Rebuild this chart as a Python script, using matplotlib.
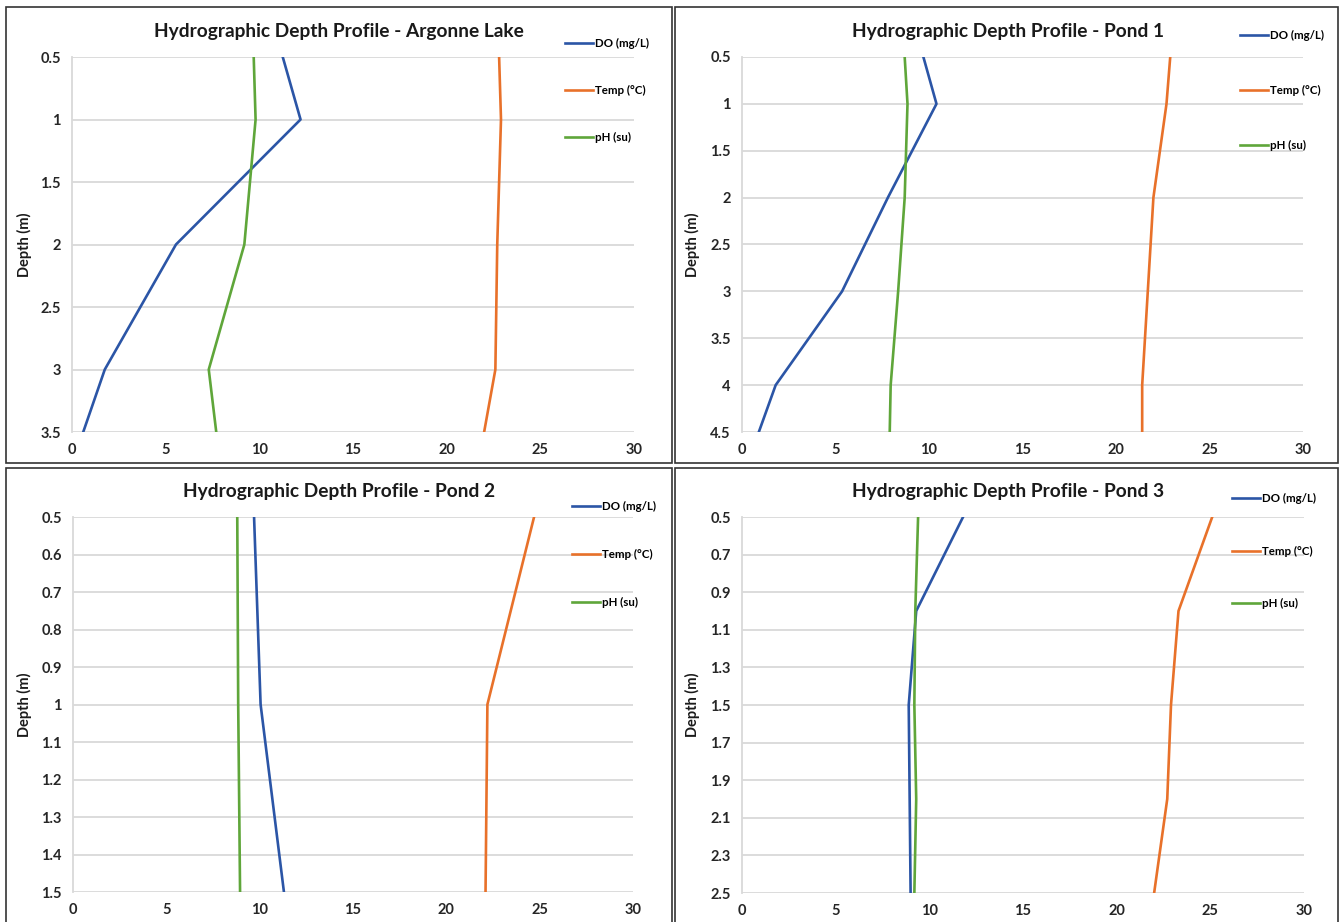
import matplotlib
matplotlib.use("Agg")
import matplotlib.pyplot as plt
from matplotlib.patches import Rectangle

plt.rcParams["font.family"] = ["Lato", "DejaVu Sans"]

W, H = 1343, 922

series_labels = ["DO (mg/L)", "Temp (°C)", "pH (su)"]
series_colors = ["#2b55a6", "#e8712a", "#5fa63a"]

# Argonne Lake
argonne_depth = [0.5, 1.0, 2.0, 3.0, 3.5]
argonne_do = [11.25, 12.2, 5.55, 1.75, 0.6]
argonne_temp = [22.8, 22.9, 22.7, 22.6, 22.0]
argonne_ph = [9.7, 9.8, 9.2, 7.3, 7.7]

# Pond 1
pond1_depth = [0.5, 1.0, 2.0, 3.0, 4.0, 4.5]
pond1_do = [9.7, 10.4, 7.8, 5.35, 1.8, 0.9]
pond1_temp = [22.9, 22.7, 22.0, 21.7, 21.4, 21.4]
pond1_ph = [8.7, 8.85, 8.7, 8.35, 7.95, 7.9]

# Pond 2
pond2_depth = [0.5, 1.0, 1.5]
pond2_do = [9.7, 10.05, 11.3]
pond2_temp = [24.7, 22.2, 22.1]
pond2_ph = [8.8, 8.85, 8.95]

# Pond 3
pond3_depth = [0.5, 1.0, 1.5, 2.0, 2.5]
pond3_do = [11.8, 9.3, 8.9, 8.95, 9.0]
pond3_temp = [25.1, 23.3, 22.9, 22.7, 22.0]
pond3_ph = [9.4, 9.25, 9.2, 9.3, 9.2]

titles = ["Hydrographic Depth Profile - Argonne Lake",
          "Hydrographic Depth Profile - Pond 1",
          "Hydrographic Depth Profile - Pond 2",
          "Hydrographic Depth Profile - Pond 3"]
depth_ticks = [[0.5, 1, 1.5, 2, 2.5, 3, 3.5],
               [0.5, 1, 1.5, 2, 2.5, 3, 3.5, 4, 4.5],
               [0.5, 0.6, 0.7, 0.8, 0.9, 1, 1.1, 1.2, 1.3, 1.4, 1.5],
               [0.5, 0.7, 0.9, 1.1, 1.3, 1.5, 1.7, 1.9, 2.1, 2.3, 2.5]]
x_ticks = [0, 5, 10, 15, 20, 25, 30]

panels = [
    (argonne_depth, argonne_do, argonne_temp, argonne_ph),
    (pond1_depth, pond1_do, pond1_temp, pond1_ph),
    (pond2_depth, pond2_do, pond2_temp, pond2_ph),
    (pond3_depth, pond3_do, pond3_temp, pond3_ph),
]

# layout in pixels: plot box (x0, x1, ytop, ybot), border box, title centre, legend (x, first row y, row step)
plot_px = [(72, 634, 57, 432), (742, 1303, 57, 432), (73, 633, 517, 892), (742, 1304, 517, 893)]
border_px = [(6, 7, 672, 463), (675, 7, 1338, 463), (6, 468, 672, 926), (675, 468, 1338, 926)]
title_px = [(339, 32), (1008, 32), (339, 492), (1008, 492)]
legend_px = [(565, 43, 47.5), (1240, 35, 55.5), (572, 506, 48.5), (1232, 498, 53)]
ylabel_x = [24, 692, 24, 692]

fig = plt.figure(figsize=(W / 100, H / 100), dpi=100)

for i, (depth, do, temp, ph) in enumerate(panels):
    x0, x1, yt, yb = plot_px[i]
    ax = fig.add_axes([x0 / W, 1 - yb / H, (x1 - x0) / W, (yb - yt) / H])
    lines = []
    for vals, lab, col in zip([do, temp, ph], series_labels, series_colors):
        ln, = ax.plot(vals, depth, color=col, lw=1.9, label=lab, zorder=3)
        lines.append(ln)
    ax.set_xlim(0, 30)
    ax.set_ylim(depth_ticks[i][-1], depth_ticks[i][0])
    ax.set_xticks(x_ticks)
    ax.set_yticks(depth_ticks[i])
    ax.set_yticklabels(["%g" % round(v, 1) for v in depth_ticks[i]])
    ax.grid(axis="y", color="#d9d9d9", lw=1.3)
    ax.set_axisbelow(True)
    for s in ["top", "right", "bottom"]:
        ax.spines[s].set_visible(False)
    ax.spines["left"].set_color("#d9d9d9")
    ax.spines["left"].set_linewidth(1.3)
    ax.tick_params(length=0, labelsize=10.5, labelcolor="#262626", pad=8)
    for t in ax.get_xticklabels() + ax.get_yticklabels():
        t.set_fontweight("bold")

    fig.text(ylabel_x[i] / W, 1 - ((yt + yb) / 2) / H, "Depth (m)", rotation=90,
             ha="center", va="center", fontsize=10.5, fontweight="bold", color="#1a1a1a")

    tx, ty = title_px[i]
    fig.text(tx / W, 1 - ty / H, titles[i], ha="center", va="center",
             fontsize=13.8, fontweight="bold", color="#1a1a1a")

    lx, ly, step = legend_px[i]
    fs = 8.3
    fs_px = fs * 100 / 72
    fig.legend(lines, series_labels, loc="upper left",
               bbox_to_anchor=(lx / W, 1 - (ly - 5) / H), frameon=False,
               prop={"size": fs, "weight": "bold"}, handlelength=28 / fs_px,
               handletextpad=0.15, borderpad=0, borderaxespad=0,
               labelspacing=(step - 11.5) / fs_px)

    bx0, by0, bx1, by1 = border_px[i]
    fig.patches.append(Rectangle((bx0 / W, 1 - by1 / H), (bx1 - bx0) / W, (by1 - by0) / H,
                                 transform=fig.transFigure, fill=False,
                                 edgecolor="#333333", lw=1.2))

fig.savefig("out.png", dpi=100)
